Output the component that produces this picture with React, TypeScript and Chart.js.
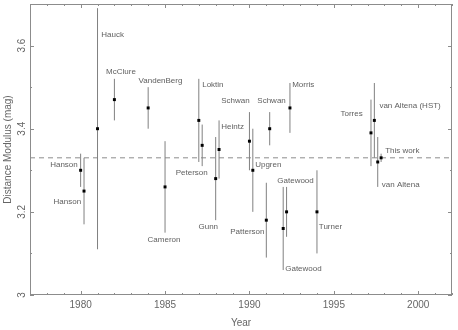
import React, { useEffect, useRef } from 'react';
import { Chart, registerables } from 'chart.js';

Chart.register(...registerables);

// ---- data ----
const authors = [
  'Hanson', 'Hanson', 'Hauck', 'McClure', 'VandenBerg', 'Cameron', 'Loktin', 'Peterson',
  'Gunn', 'Heintz', 'Schwan', 'Upgren', 'Patterson', 'Schwan', 'Gatewood', 'Gatewood',
  'Morris', 'Turner', 'Torres', 'van Altena (HST)', 'van Altena', 'This work',
];
const years = [
  1980.0, 1980.2, 1981.0, 1982.0, 1984.0, 1985.0, 1987.0, 1987.2,
  1988.0, 1988.2, 1990.0, 1990.2, 1991.0, 1991.2, 1992.0, 1992.2,
  1992.4, 1994.0, 1997.2, 1997.4, 1997.6, 1997.8,
];
const moduli = [
  3.30, 3.25, 3.40, 3.47, 3.45, 3.26, 3.42, 3.36,
  3.28, 3.35, 3.37, 3.30, 3.18, 3.40, 3.16, 3.20,
  3.45, 3.20, 3.39, 3.42, 3.32, 3.33,
];
const errors = [
  0.04, 0.08, 0.29, 0.05, 0.05, 0.11, 0.10, 0.05,
  0.10, 0.07, 0.07, 0.10, 0.09, 0.04, 0.10, 0.06,
  0.06, 0.10, 0.08, 0.09, 0.06, 0.01,
];
const referenceModulus = 3.33;

// label anchors, in data units (year, modulus) and text alignment
const labelYears = [
  1979.83, 1980.03, 1981.22, 1982.39, 1984.73, 1984.94, 1987.20, 1987.53,
  1987.56, 1988.33, 1989.17, 1990.34, 1990.89, 1991.31, 1992.12, 1992.73,
  1992.53, 1994.11, 1996.71, 1997.70, 1997.84, 1998.04,
];
const labelModuli = [
  3.314, 3.224, 3.627, 3.536, 3.515, 3.133, 3.505, 3.294,
  3.164, 3.405, 3.467, 3.314, 3.152, 3.467, 3.063, 3.274,
  3.505, 3.164, 3.435, 3.455, 3.264, 3.346,
];
const labelAligns: CanvasTextAlign[] = [
  'right', 'right', 'left', 'center', 'center', 'center', 'left', 'right',
  'center', 'left', 'center', 'left', 'right', 'center', 'left', 'center',
  'left', 'left', 'right', 'left', 'left', 'left',
];

const xTickLabels = ['1980', '1985', '1990', '1995', '2000'];
const yTickLabels = ['3', '3.2', '3.4', '3.6'];
const xRange = [1977, 2002];
const yRange = [3, 3.7];

const FONT = "'Liberation Sans', Arial, sans-serif";

const frameTicksPlugin = {
  id: 'frameTicks',
  afterDatasetsDraw(chart: any) {
    const { ctx, chartArea } = chart;
    const { left, right, top, bottom } = chartArea;
    const xs = chart.scales.x;
    const ys = chart.scales.y;
    ctx.save();
    ctx.strokeStyle = '#8c8c8c';
    ctx.lineWidth = 1;
    ctx.strokeRect(Math.round(left) + 0.5, Math.round(top) + 0.5, Math.round(right - left) - 1, Math.round(bottom - top) - 1);
    ctx.beginPath();
    xs.ticks.forEach((t: any) => {
      const px = Math.round(xs.getPixelForValue(t.value)) + 0.5;
      const major = Math.abs(t.value / 5 - Math.round(t.value / 5)) < 1e-6;
      const len = major ? 4 : 2;
      ctx.moveTo(px, bottom);
      ctx.lineTo(px, bottom - len);
      ctx.moveTo(px, top);
      ctx.lineTo(px, top + len);
    });
    ys.ticks.forEach((t: any) => {
      const py = Math.round(ys.getPixelForValue(t.value)) + 0.5;
      const major = Math.abs(t.value * 5 - Math.round(t.value * 5)) < 1e-6;
      const len = major ? 4 : 2;
      ctx.moveTo(left, py);
      ctx.lineTo(left + len, py);
      ctx.moveTo(right, py);
      ctx.lineTo(right - len, py);
    });
    ctx.stroke();

    // author labels
    ctx.fillStyle = '#606060';
    ctx.font = `8px ${FONT}`;
    ctx.textBaseline = 'middle';
    authors.forEach((name, i) => {
      ctx.textAlign = labelAligns[i];
      ctx.fillText(name, xs.getPixelForValue(labelYears[i]), ys.getPixelForValue(labelModuli[i]));
    });
    ctx.restore();
  },
};

export default function App() {
  const ref = useRef<HTMLCanvasElement>(null);

  useEffect(() => {
    if (!ref.current) return;
    const barSets = years.map((yr, i) => ({
      type: 'line' as const,
      data: [
        { x: yr, y: moduli[i] - errors[i] },
        { x: yr, y: moduli[i] + errors[i] },
      ],
      showLine: true,
      borderColor: '#808080',
      borderWidth: 1,
      pointRadius: 0,
      order: 1,
    }));
    const chart = new Chart(ref.current, {
      type: 'scatter',
      data: {
        datasets: [
          {
            data: years.map((yr, i) => ({ x: yr, y: moduli[i] })),
            backgroundColor: '#000',
            borderColor: '#000',
            pointStyle: 'rect',
            pointRadius: 2.1,
            borderWidth: 0,
            order: 0,
          },
          ...barSets,
          {
            type: 'line' as const,
            data: [
              { x: xRange[0], y: referenceModulus },
              { x: xRange[1], y: referenceModulus },
            ],
            showLine: true,
            borderColor: '#8c8c8c',
            borderWidth: 1,
            borderDash: [5, 4],
            pointRadius: 0,
            order: 2,
          },
        ] as any,
      },
      options: {
        responsive: false,
        animation: false,
        events: [],
        layout: { padding: { top: 4, right: 6, left: 0, bottom: 0 } },
        plugins: { legend: { display: false }, tooltip: { enabled: false } },
        scales: {
          x: {
            type: 'linear',
            min: xRange[0],
            max: xRange[1],
            grid: { display: false, drawTicks: false },
            border: { display: false },
            ticks: {
              stepSize: 1,
              autoSkip: false,
              maxRotation: 0,
              minRotation: 0,
              padding: 4,
              color: '#666',
              font: { family: FONT, size: 10 },
              callback: (v: any) => {
                const s = xTickLabels.find((l) => Math.abs(Number(l) - Number(v)) < 1e-6);
                return s ?? '';
              },
            },
            title: {
              display: true,
              text: 'Year',
              color: '#666',
              font: { family: FONT, size: 10 },
              padding: { top: 0, bottom: 1 },
            },
            afterFit: (s: any) => {
              s.height = 35;
              s.paddingLeft = 0;
              s.paddingRight = 0;
            },
          },
          y: {
            type: 'linear',
            min: yRange[0],
            max: yRange[1],
            grid: { display: false, drawTicks: false },
            border: { display: false },
            ticks: {
              stepSize: 0.1,
              autoSkip: false,
              minRotation: 90,
              maxRotation: 90,
              crossAlign: 'center',
              padding: 1,
              color: '#666',
              font: { family: FONT, size: 10 },
              callback: (v: any) => {
                const s = yTickLabels.find((l) => Math.abs(Number(l) - Number(v)) < 1e-6);
                return s ?? '';
              },
            },
            title: {
              display: true,
              text: 'Distance Modulus (mag)',
              color: '#666',
              font: { family: FONT, size: 10 },
              padding: { top: 2, bottom: 0 },
            },
            afterFit: (s: any) => {
              s.width = 30;
              s.paddingTop = 0;
              s.paddingBottom = 0;
            },
          },
        },
      },
      plugins: [frameTicksPlugin],
    });
    return () => chart.destroy();
  }, []);

  return (
    <div style={{ position: 'absolute', left: 0, top: 0, width: 458, height: 330, background: '#fff' }}>
      <canvas ref={ref} width={458} height={330} />
    </div>
  );
}
